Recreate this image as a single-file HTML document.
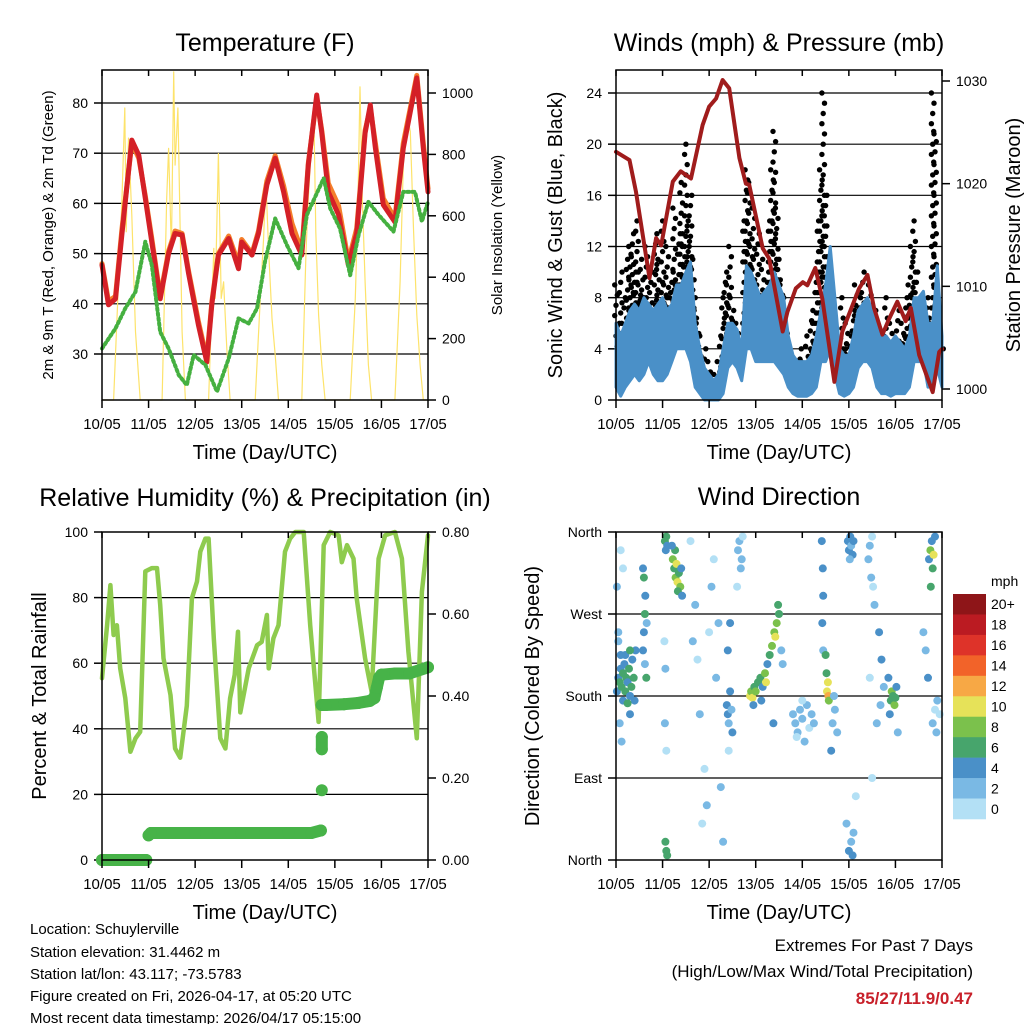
<!DOCTYPE html>
<html><head><meta charset="utf-8"><style>
html,body{margin:0;padding:0;background:#fff;}
svg{display:block;font-family:"Liberation Sans",sans-serif;}
</style></head><body>
<svg id="chart" width="1024" height="1024" viewBox="0 0 1024 1024" xmlns="http://www.w3.org/2000/svg">
<rect width="1024" height="1024" fill="#fff"/>
<g id="g1"></g>
<g id="g2"></g>
<g id="g3"></g>
<g id="g4"></g>
<g font-size="15" fill="#000">
<text x="30" y="934">Location: Schuylerville</text>
<text x="30" y="957">Station elevation: 31.4462 m</text>
<text x="30" y="979">Station lat/lon: 43.117; -73.5783</text>
<text x="30" y="1001">Figure created on Fri, 2026-04-17, at 05:20 UTC</text>
<text x="30" y="1023">Most recent data timestamp: 2026/04/17 05:15:00</text>
</g>
<g text-anchor="end" font-size="17">
<text x="973" y="951">Extremes For Past 7 Days</text>
<text x="973" y="977">(High/Low/Max Wind/Total Precipitation)</text>
<text x="973" y="1004" font-weight="bold" fill="#c8202a">85/27/11.9/0.47</text>
</g>
</svg>
<script>
const dayLabels=["10/05","11/05","12/05","13/05","14/05","15/05","16/05","17/05"];
const tempDays=[0,0.14,0.29,0.43,0.64,0.79,0.93,1.07,1.25,1.43,1.57,1.72,1.86,2.07,2.25,2.36,2.5,2.72,2.93,3.0,3.22,3.36,3.54,3.72,3.9,4.08,4.29,4.43,4.61,4.72,4.86,5.08,5.29,5.47,5.65,5.76,5.87,6.04,6.29,6.47,6.76,6.9,7.0];
const tempVals=[47.7,39.8,41,54,72.6,69.6,61,52.3,41,50,54,53.7,46,35.8,28.4,40,49.7,53,47,52.3,49.7,54,63.7,69,62.3,54,49.7,67.6,81.6,74,62.3,57.7,47.7,54,74,79.6,71,59.7,56.3,71,85,71,62.3];
const temp9Vals=[48,40.5,41.5,55,72,69,61.5,53,41.5,50.5,54.5,54,46.5,36.5,29,40.5,50,53.5,48,52.8,50,54.5,64.5,69.5,63.5,56,50.5,68,81,74.5,64,59.5,48.5,55,74.5,79,72,61,57,72,85.5,72,63];
const dewDays=[0,0.29,0.5,0.72,0.93,1.07,1.25,1.43,1.65,1.82,1.97,2.22,2.47,2.72,2.93,3.15,3.33,3.5,3.72,3.97,4.22,4.4,4.76,4.9,5.11,5.33,5.51,5.72,5.94,6.26,6.47,6.72,6.87,7.0];
const dewVals=[31.1,35.1,39.1,42.4,52.4,47.7,34.4,31.1,25.8,23.8,29.8,27.8,22.5,29.1,37.1,36.1,39.1,48.4,57,51.7,47.1,57.7,65,59,55,45.7,53.7,60.3,57.7,54.4,62.3,62.3,56.4,60.3];
const solarDays=[0,0.25,0.43,0.49,0.52,0.57,0.64,0.72,0.82,1.29,1.39,1.43,1.49,1.54,1.57,1.63,1.68,1.72,1.79,2.29,2.4,2.43,2.5,2.56,2.61,2.68,2.75,3.29,3.4,3.47,3.52,3.58,3.65,3.72,3.79,4.29,4.38,4.43,4.51,4.55,4.59,4.65,4.72,4.79,5.33,5.44,5.49,5.54,5.59,5.65,5.72,5.79,6.29,6.4,6.47,6.55,6.62,6.69,6.76,6.83,6.9,7.0];
const solarVals=[0,0,658,951,548,853,603,222,0,0,658,820,483,1069,765,951,548,222,0,0,494,331,803,331,385,168,0,0,331,527,711,483,266,147,0,0,483,658,853,929,548,277,114,0,0,331,603,1020,658,385,114,0,0,385,765,929,875,548,277,114,0,0];
const presDays=[0,0.29,0.43,0.72,0.86,0.97,1.22,1.39,1.61,1.86,2.0,2.15,2.29,2.43,2.65,2.79,2.86,3.15,3.29,3.58,3.68,3.86,4.01,4.11,4.28,4.43,4.69,4.86,5.22,5.4,5.54,5.72,5.87,6.04,6.22,6.33,6.51,6.8,6.94,7.0];
const presVals=[1023.1,1022.3,1019.2,1010.8,1014.7,1014,1020.2,1021.2,1020.5,1025.7,1027.5,1028.3,1030.1,1029.3,1022.5,1020,1019.9,1013.7,1012.7,1005.6,1007.5,1009.8,1010.4,1010.1,1011.8,1008.8,1000.7,1005.6,1009.8,1011.1,1007.9,1005.3,1006.9,1008.5,1006.6,1007.9,1003.3,999.7,1003.6,1003.9];
const windTop=[6,5,6,7,7.5,7,8,7.5,7,7.5,8,7,7.5,9,9,10,10.8,6,4,2.5,2,1.5,2,4,6,6,5.5,4,10.5,10,9,8,8.5,9,10,9,8,5,3.5,3,3,3,3.5,5,7,9,12,8,4,3.5,3.5,5,7,7.5,8,7,6,5,5,4.5,5,4.5,4,5,8,8,8.5,6,6,10.5,5];
const windBot=[1,0.3,1,1.5,2,1.5,2,3,2,1.5,1.5,2,3,4,4,4,3,1,0.5,0,0,0,0,0.5,2.5,3,2.5,1.5,4,4,3,3,3,3,3,2.5,2,1,0.5,0.3,0.3,0.3,0.5,1,3,3,4,2,0.5,0.3,0.5,1,2.5,3,3,2.5,1,0.5,0.5,0.3,0.5,0.5,0.5,1,3,3,3,1,1.5,2.5,1];
const gustVals=[9,5,10,6,8,11,12,13,10,14,9,11,8,12,6,10,7,13,11,7,14,9,12,8,10,15,9,13,17,12,20,14,16,11,8,6,5,3,4,2,3,2,2,1,3,5,8,10,9,12,7,5,6,4,3,14,18,17,12,15,9,13,7,11,6,10,14,18,21,15,11,9,8,6,4,3,2,3,2,4,3,2,5,4,7,6,10,14,18,24,16,9,6,5,4,3,2,8,4,6,3,5,7,9,6,8,10,7,6,9,5,7,4,6,3,5,8,4,6,3,4,7,3,6,5,8,9,12,14,10,7,6,5,4,8,6,24,21,9,5,4];
const rhDays=[0,0.11,0.18,0.25,0.32,0.39,0.5,0.61,0.72,0.82,0.93,1.07,1.18,1.25,1.32,1.47,1.57,1.68,1.82,1.93,2.04,2.11,2.22,2.29,2.4,2.54,2.65,2.75,2.85,2.92,2.97,3.15,3.33,3.43,3.54,3.58,3.68,3.79,3.93,4.04,4.15,4.33,4.47,4.65,4.76,4.9,5.08,5.15,5.26,5.4,5.47,5.65,5.79,5.94,6.08,6.29,6.44,6.58,6.76,6.87,7.0];
const rhVals=[55.4,71.6,83.8,68.6,71.6,58.4,49.3,33,37.1,39.1,88,89,89,77.8,61.5,50.3,34,31.2,47,79.8,84.9,94,98,98,67.6,37.1,34,49.3,56.5,69.6,45,58.4,65.5,66.5,74.7,58.4,67.6,71.6,94,98,100,100,71.6,42.1,96,100,99,90.8,96,91.9,79.8,61.5,51.3,91.9,99,100,91.9,63.5,37.1,81.8,99];
const precipDays=[0,0.3,0.6,0.95,1.0,1.05,1.5,2,2.5,3,3.5,4,4.5,4.7,4.72,4.72,4.72,4.72,4.72,4.8,5.2,5.5,5.75,5.85,5.9,5.95,6.0,6.3,6.6,7.0];
const precipVals=[0,0,0,0,0.06,0.066,0.066,0.066,0.066,0.066,0.066,0.066,0.066,0.072,0.17,0.27,0.30,0.378,0.378,0.378,0.38,0.383,0.388,0.395,0.42,0.445,0.452,0.455,0.455,0.47];
const dirDays=[0.02,0.05,0.08,0.1,0.12,0.15,0.18,0.2,0.22,0.25,0.28,0.3,0.33,0.35,0.38,0.4,0.42,0.1,0.2,0.3,0.15,0.25,0.05,0.02,0.1,0.15,0.08,0.12,0.3,0.05,
0.58,0.6,0.62,0.63,0.6,0.58,0.65,0.62,0.66,
1.05,1.08,1.1,1.07,1.08,1.1,1.06,1.05,1.08,1.04,1.06,
1.22,1.25,1.28,1.3,1.32,1.35,1.38,1.27,1.33,1.4,1.42,1.2,
1.6,1.7,1.75,1.8,1.9,1.95,2.0,2.05,2.1,1.85,2.15,2.2,1.65,2.25,2.3,
2.38,2.4,2.42,2.45,2.48,2.5,2.4,2.45,2.42,
2.62,2.65,2.68,2.7,2.6,2.72,
2.88,2.9,2.93,2.97,3.0,3.05,3.1,3.15,3.2,3.22,3.25,3.3,3.35,3.4,3.42,3.45,3.5,3.48,3.55,3.58,3.12,2.95,3.38,
3.8,3.85,3.9,3.95,4.0,4.05,4.1,4.15,4.2,3.88,4.0,4.25,
4.42,4.44,4.45,4.43,4.45,
4.53,4.55,4.56,4.52,4.57,4.5,
4.65,4.7,4.75,4.68,4.62,
4.98,5.0,5.03,5.05,5.08,5.1,5.02,5.0,5.05,5.08,5.1,4.95,5.15,
5.42,5.45,5.48,5.5,5.52,5.55,5.6,5.45,5.5,
5.9,5.92,5.95,5.98,6.0,6.02,5.85,5.88,6.05,
5.65,5.7,5.75,5.68,
6.72,6.75,6.78,6.8,6.82,6.85,6.76,
6.8,6.85,6.9,6.88,6.95,6.7,6.65,6.6];
const dirDeg=[185,200,195,210,190,205,215,185,200,195,210,180,190,220,200,175,230,225,225,230,175,172,240,300,340,320,150,130,160,250,
230,250,270,290,310,320,200,215,260,
350,355,345,340,10,5,20,150,120,240,210,
330,320,310,325,305,315,300,340,295,320,290,345,
350,280,220,160,100,60,250,300,330,40,200,260,240,80,20,
170,160,150,185,165,140,230,260,120,
340,350,320,330,300,355,
180,185,178,190,185,195,200,190,205,195,215,225,235,250,245,260,270,280,230,215,175,170,150,
160,150,140,165,155,130,170,145,160,135,175,150,
350,320,290,260,230,
185,195,180,205,175,225,
150,165,140,180,120,
350,340,355,345,335,350,330,10,20,5,30,40,70,
330,345,310,355,300,280,150,200,90,
175,185,180,170,178,190,200,160,140,
250,220,190,170,
330,340,350,320,335,355,300,
150,165,175,140,160,200,230,250];
const dirSpd=[4,4,6,4,6,6,4,6,6,4,6,4,6,4,6,4,4,4,4,6,4,6,2,2,0,0,2,2,4,2,
4,4,6,4,6,4,6,2,2,
6,6,4,4,6,6,6,2,0,0,2,
8,6,8,10,10,6,8,6,6,4,4,4,
0,2,0,2,0,2,0,2,0,0,2,2,2,2,2,
4,4,2,4,2,4,4,4,0,
2,2,2,2,0,0,
10,8,10,6,8,6,6,4,8,10,4,6,8,8,10,8,6,6,2,2,4,4,4,
2,2,2,2,2,2,2,0,2,0,0,2,
4,4,4,4,2,
10,10,12,6,8,6,
2,2,2,2,4,
4,4,4,2,4,4,2,4,2,4,2,2,0,
2,2,2,0,0,2,2,0,0,
6,8,6,8,6,4,4,4,2,
4,4,2,2,
4,8,4,6,10,4,6,
2,0,2,2,0,4,2,2];
const cbLabels=["20+","18","16","14","12","10","8","6","4","2","0"];
const cbColors=["#8e1518","#bb1b22","#de3329","#f26329","#f7a845","#e6e259","#7bc14c","#47a56c","#4a90c8","#7ab9e4","#b3e0f5"];

const NS="http://www.w3.org/2000/svg";
function mk(parent,tag,attrs,txt){const e=document.createElementNS(NS,tag);for(const k in attrs)e.setAttribute(k,attrs[k]);if(txt!==undefined)e.textContent=txt;parent.appendChild(e);return e;}
const X0L=102,X1L=428,X0R=616,X1R=942;
function xs(x0,x1){return d=>x0+(x1-x0)*d/7;}
function ys(y0,y1,v0,v1){return v=>y0+(y1-y0)*(v-v0)/(v1-v0);}
function poly(g,days,vals,sx,sy,stroke,w,name){
  const p=days.map((d,i)=>sx(d).toFixed(1)+","+sy(vals[i]).toFixed(1)).join(" ");
  const e=mk(g,"polyline",{points:p,fill:"none",stroke:stroke,"stroke-width":w,"stroke-linejoin":"round","stroke-linecap":"round"});
  
  
  return e;
}
function frame(g,x0,x1,y0,y1,title,ty){
  const f=mk(g,"rect",{x:x0,y:y0,width:x1-x0,height:y1-y0,fill:"none",stroke:"#000","stroke-width":1.5});
  
  
  const t=mk(g,"text",{x:(x0+x1)/2,y:ty,"text-anchor":"middle","font-size":25},title);
  
  
  const sx=xs(x0,x1);
  dayLabels.forEach((l,i)=>{
    mk(g,"line",{x1:sx(i),x2:sx(i),y1:y1,y2:y1+8,stroke:"#000","stroke-width":1.5});
    mk(g,"line",{x1:sx(i),x2:sx(i),y1:y0,y2:y0+6,stroke:"#000","stroke-width":1.5});
    const tl=mk(g,"text",{x:sx(i),y:y1+29,"text-anchor":"middle","font-size":15},l);
    
    
  });
  const xl=mk(g,"text",{x:(x0+x1)/2,y:y1+59,"text-anchor":"middle","font-size":20},"Time (Day/UTC)");
  
  
}
function grid(g,x0,x1,y){const l=mk(g,"line",{x1:x0,x2:x1,y1:y,y2:y,stroke:"#000","stroke-width":1.2});}
function ytick(g,x,y,label,side,fs){
  mk(g,"line",{x1:x,x2:x+(side<0?-8:8),y1:y,y2:y,stroke:"#000","stroke-width":1.5});
  const t=mk(g,"text",{x:x+(side<0?-14:14),y:y+5,"text-anchor":side<0?"end":"start","font-size":fs||14},label);
  
  
}
function vlabel(g,x,y,txt,fs,name){const t=mk(g,"text",{x:x,y:y,"text-anchor":"middle","font-size":fs,transform:`rotate(-90 ${x} ${y})`},txt);}

// Panel 1 temperature
(function(){
  const g=document.getElementById("g1");
  const y0=70,y1=400;const sx=xs(X0L,X1L);
  const sy=ys(354,103,30,80); const ss=ys(400,93,0,1000);
  [30,40,50,60,70,80].forEach(v=>{grid(g,X0L,X1L,sy(v));ytick(g,X0L,sy(v),String(v),-1);});
  [0,200,400,600,800,1000].forEach(v=>ytick(g,X1L,ss(v),String(v),1));
  poly(g,solarDays,solarVals,sx,ss,"#fde36b",1.2,"solar-line");
  poly(g,tempDays,temp9Vals,sx,sy,"#f47f2b",5,"temp-9m-line");
  poly(g,tempDays,tempVals,sx,sy,"#d42027",5,"temp-2m-line");
  const gd=poly(g,dewDays,dewVals,sx,sy,"#45b040",4,"dewpoint-line");gd.setAttribute("stroke-dasharray","2 3");
  frame(g,X0L,X1L,y0,y1,"Temperature (F)",51);
  vlabel(g,53,235,"2m & 9m T (Red, Orange) & 2m Td (Green)",15,"y-axis-title-left");
  vlabel(g,502,235,"Solar Insolation (Yellow)",15,"y-axis-title-right");
})();

// Panel 2 winds
(function(){
  const g=document.getElementById("g2");
  const y0=70,y1=400;const sx=xs(X0R,X1R);
  const sy=ys(400,93,0,24); const sp=ys(389,81,1000,1030);
  [0,4,8,12,16,20,24].forEach(v=>{if(v>0)grid(g,X0R,X1R,sy(v));ytick(g,X0R,sy(v),String(v),-1);});
  [1000,1010,1020,1030].forEach(v=>ytick(g,X1R,sp(v),String(v),1));
  function topAt(d){const f=d/0.1;const i=Math.min(69,Math.floor(f));const t=f-i;return windTop[i]*(1-t)+windTop[i+1]*t;}
  gustVals.forEach((v,i)=>{
    const d=i*0.05;const lo=Math.max(0,topAt(d)-1.5);
    for(let w=v;w>=lo;w-=0.8){
      const c=mk(g,"circle",{cx:(sx(d)+((Math.round(w*5))%3-1)*1.3).toFixed(1),cy:sy(w).toFixed(1),r:2.7,fill:"#000"});
      
      
    }
  });
  const wd=windTop.map((v,i)=>i*0.1);
  const pts=wd.map((d,i)=>sx(d).toFixed(1)+","+sy(windTop[i]).toFixed(1)).concat(wd.slice().reverse().map((d,k)=>{const i=wd.length-1-k;return sx(d).toFixed(1)+","+sy(windBot[i]).toFixed(1);})).join(" ");
  const band=mk(g,"polygon",{points:pts,fill:"#4a90c8",stroke:"#4a90c8","stroke-width":3,"stroke-linejoin":"round"});
  
  
  poly(g,presDays,presVals,sx,sp,"#a01c1c",4,"pressure-line");
  frame(g,X0R,X1R,y0,y1,"Winds (mph) & Pressure (mb)",51);
  vlabel(g,562,235,"Sonic Wind & Gust (Blue, Black)",20,"y-axis-title-left");
  vlabel(g,1020,235,"Station Pressure (Maroon)",20,"y-axis-title-right");
})();

// Panel 3 RH
(function(){
  const g=document.getElementById("g3");
  const y0=532,y1=860;const sx=xs(X0L,X1L);
  const sy=ys(860,532,0,100); const sr=ys(860,532,0,0.8);
  [0,20,40,60,80,100].forEach(v=>{if(v>0&&v<100)grid(g,X0L,X1L,sy(v));ytick(g,X0L,sy(v),String(v),-1);});
  [0,0.2,0.4,0.6,0.8].forEach(v=>ytick(g,X1L,sr(v),v.toFixed(2),1));
  poly(g,rhDays,rhVals,sx,sy,"#8ecb4e",4.5,"humidity-line");
  for(let i=1;i<precipDays.length;i++){
    if(Math.abs(precipVals[i]-precipVals[i-1])<0.05){
      const l=mk(g,"line",{x1:sx(precipDays[i-1]),y1:sr(precipVals[i-1]),x2:sx(precipDays[i]),y2:sr(precipVals[i]),stroke:"#47b348","stroke-width":12,"stroke-linecap":"round"});
      
      
    }
  }
  precipDays.forEach((d,i)=>{const c=mk(g,"circle",{cx:sx(d),cy:sr(precipVals[i]),r:6,fill:"#47b348"});
    
    });
  frame(g,X0L,X1L,y0,y1,"Relative Humidity (%) & Precipitation (in)",506);
  vlabel(g,46,696,"Percent & Total Rainfall",20,"y-axis-title-left");
})();

// Panel 4 wind direction
(function(){
  const g=document.getElementById("g4");
  const y0=532,y1=860;const sx=xs(X0R,X1R);
  const sy=ys(860,532,0,360);
  [[360,"North"],[270,"West"],[180,"South"],[90,"East"],[0,"North"]].forEach(([v,l])=>{if(v>0&&v<360)grid(g,X0R,X1R,sy(v));ytick(g,X0R,sy(v),l,-1,14);});
  function col(s){const idx=Math.min(10,Math.floor(s/2));return cbColors[10-idx];}
  dirDays.forEach((d,i)=>{const c=mk(g,"circle",{cx:sx(d).toFixed(1),cy:sy(dirDeg[i]).toFixed(1),r:4,fill:col(dirSpd[i])});
    
    });
  frame(g,X0R,X1R,y0,y1,"Wind Direction",505);
  vlabel(g,539,696,"Direction (Colored By Speed)",20,"y-axis-title-left");
  const cb=mk(g,"g",{});
  
  
  const bh=225/11;
  cbColors.forEach((c,i)=>{const r=mk(cb,"rect",{x:953,y:594+i*bh,width:33,height:bh+0.3,fill:c});
    
    
    const t=mk(cb,"text",{x:991,y:594+i*bh+bh/2+5,"font-size":14},cbLabels[i]);
    
    });
  const u=mk(cb,"text",{x:991,y:586,"font-size":14},"mph");
  
  
})();
</script>
</body></html>
